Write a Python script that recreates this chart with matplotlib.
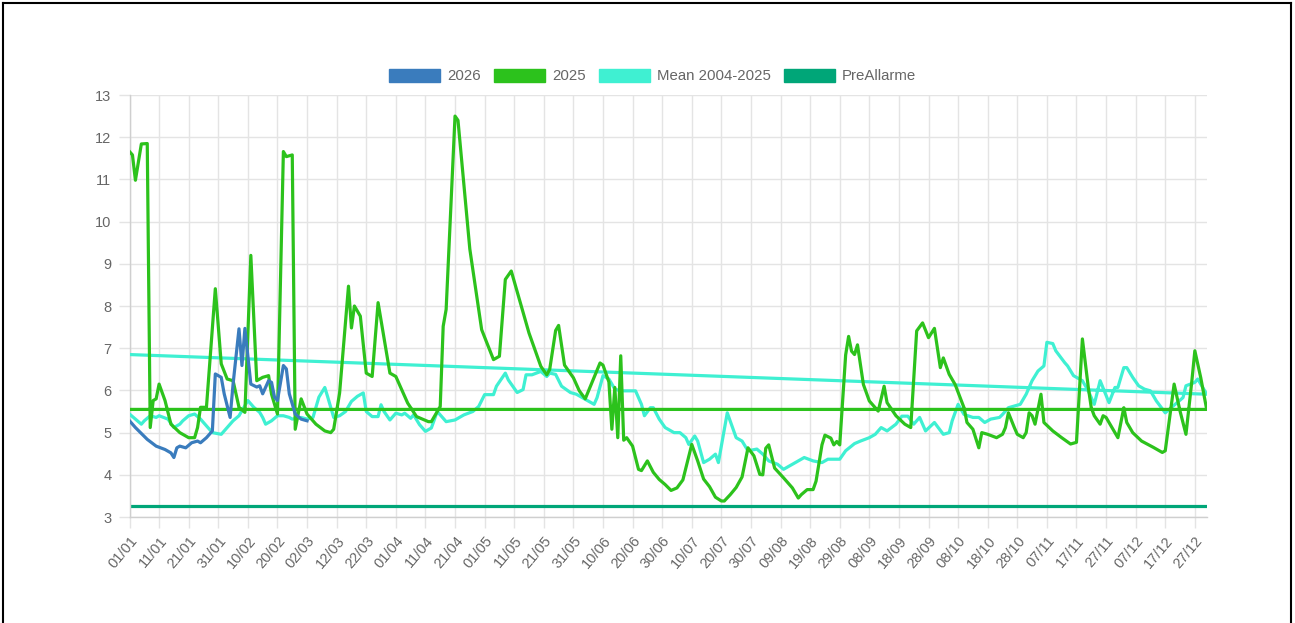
import numpy as np
import pandas as pd
import matplotlib
matplotlib.use("Agg")
import matplotlib.pyplot as plt
from matplotlib.patches import Patch
from matplotlib.lines import Line2D

plt.rcParams['font.family'] = ['Liberation Sans', 'DejaVu Sans']

# ---- data (day of year index, value) ----
y2026_days = [0, 2, 6, 9, 12, 14, 15, 16, 17, 19, 21, 23, 24, 26, 28, 29, 31, 32, 34,
              35, 37, 38, 39, 41, 43, 44, 45, 47, 48, 49, 50, 52, 53, 54, 56, 58, 60]
y2026_vals = [5.28, 5.12, 4.84, 4.68, 4.6, 4.52, 4.41, 4.64, 4.68, 4.64, 4.76, 4.8, 4.76,
              4.88, 5.04, 6.39, 6.31, 5.92, 5.36, 6.15, 7.46, 6.59, 7.47, 6.15, 6.08,
              6.11, 5.92, 6.23, 6.19, 5.84, 5.76, 6.59, 6.51, 5.92, 5.44, 5.32, 5.28]

y2025_days = [0, 1, 2, 4, 6, 7, 8, 9, 10, 12, 14, 17, 20, 22, 23, 24, 26, 29, 31, 33, 35,
              37, 39, 41, 43, 45, 47, 48, 50, 52, 53, 55, 56, 58, 60, 63, 66, 68, 69, 71,
              74, 75, 76, 78, 80, 82, 84, 88, 90, 94, 97, 101, 102, 105, 106, 107, 110,
              111, 115, 119, 123, 125, 127, 129, 135, 139, 141, 142, 144, 145, 147, 150,
              152, 154, 157, 159, 160, 162, 163, 164, 165, 166, 167, 168, 170, 172, 173,
              175, 177, 179, 181, 183, 185, 187, 190, 192, 194, 196, 198, 200, 201, 203,
              205, 207, 209, 211, 213, 214, 215, 216, 218, 221, 224, 226, 227, 229, 231,
              232, 234, 235, 237, 238, 239, 240, 242, 243, 244, 245, 246, 248, 250, 253,
              255, 256, 259, 262, 264, 266, 268, 270, 272, 274, 275, 277, 279, 282, 283,
              285, 287, 288, 290, 293, 295, 296, 297, 299, 300, 302, 303, 304, 305, 306,
              308, 309, 312, 315, 318, 320, 322, 324, 325, 326, 328, 329, 330, 332, 334,
              336, 337, 339, 342, 346, 349, 350, 353, 355, 357, 359, 360, 362, 364, 0]
y2025_vals = [11.66, 11.58, 10.98, 11.84, 11.85, 5.12, 5.76, 5.8, 6.15, 5.76, 5.2, 5.0,
              4.88, 4.88, 5.12, 5.6, 5.6, 8.41, 6.63, 6.27, 6.23, 5.6, 5.48, 9.2, 6.23,
              6.31, 6.35, 5.91, 5.44, 11.66, 11.54, 11.58, 5.08, 5.8, 5.44, 5.2, 5.04, 5.0,
              5.08, 5.94, 8.47, 7.48, 8.0, 7.76, 6.41, 6.33, 8.08, 6.41, 6.33, 5.7, 5.38,
              5.26, 5.26, 5.62, 7.52, 7.92, 12.5, 12.4, 9.35, 7.44, 6.73, 6.81, 8.63, 8.83,
              7.36, 6.57, 6.37, 6.5, 7.42, 7.54, 6.6, 6.3, 5.99, 5.8, 6.31, 6.65, 6.6, 6.2,
              5.08, 6.07, 4.88, 6.82, 4.82, 4.88, 4.68, 4.13, 4.1, 4.33, 4.06, 3.89, 3.77,
              3.63, 3.69, 3.88, 4.72, 4.33, 3.9, 3.72, 3.47, 3.38, 3.38, 3.53, 3.7, 3.95,
              4.64, 4.45, 4.01, 4.0, 4.63, 4.71, 4.16, 3.93, 3.69, 3.45, 3.53, 3.65, 3.65,
              3.85, 4.71, 4.94, 4.87, 4.71, 4.79, 4.71, 6.84, 7.28, 6.93, 6.85, 7.08, 6.14,
              5.75, 5.51, 6.1, 5.71, 5.4, 5.2, 5.12, 7.41, 7.6, 7.25, 7.47, 6.54, 6.77,
              6.38, 6.14, 5.59, 5.24, 5.08, 4.64, 5.0, 4.96, 4.88, 4.96, 5.12, 5.47, 5.12,
              4.96, 4.88, 5.0, 5.47, 5.4, 5.2, 5.91, 5.24, 5.04, 4.88, 4.73, 4.77, 7.22,
              6.07, 5.59, 5.4, 5.2, 5.4, 5.36, 5.12, 4.88, 5.59, 5.24, 5.0, 4.8, 4.65, 4.53,
              4.57, 6.15, 5.51, 4.96, 6.23, 6.94, 6.3, 5.55, 5.55]

mean_days = [0, 2, 4, 5, 7, 9, 10, 13, 15, 17, 18, 20, 22, 24, 26, 28, 31, 32, 35, 37, 40,
             42, 44, 45, 46, 48, 50, 52, 54, 55, 58, 60, 62, 64, 66, 67, 69, 71, 73, 75,
             77, 79, 80, 82, 84, 85, 86, 88, 90, 92, 93, 95, 96, 98, 100, 102, 104, 107,
             110, 113, 116, 118, 120, 123, 124, 127, 128, 131, 133, 134, 136, 139, 141,
             142, 144, 146, 149, 151, 153, 155, 157, 158, 160, 162, 164, 166, 169, 171,
             173, 174, 176, 177, 179, 181, 184, 186, 188, 189, 191, 192, 194, 196, 198,
             199, 202, 205, 207, 209, 212, 214, 216, 219, 221, 223, 225, 228, 231, 234,
             236, 240, 242, 245, 247, 250, 252, 254, 256, 259, 261, 263, 265, 267, 269,
             272, 275, 277, 278, 280, 282, 285, 287, 289, 291, 294, 295, 297, 299, 301,
             303, 305, 307, 309, 310, 312, 313, 316, 317, 319, 322, 324, 326, 328, 331,
             333, 334, 336, 337, 339, 341, 343, 345, 347, 350, 352, 356, 357, 360, 361,
             364, 0]
mean_vals = [5.44, 5.32, 5.2, 5.28, 5.4, 5.36, 5.4, 5.32, 5.12, 5.2, 5.28, 5.4, 5.44, 5.32,
             5.16, 5.0, 4.96, 5.04, 5.28, 5.4, 5.76, 5.6, 5.48, 5.36, 5.2, 5.28, 5.4, 5.4,
             5.36, 5.32, 5.36, 5.32, 5.36, 5.84, 6.07, 5.84, 5.36, 5.4, 5.5, 5.74, 5.86,
             5.94, 5.5, 5.38, 5.38, 5.66, 5.5, 5.3, 5.46, 5.42, 5.46, 5.34, 5.42, 5.19,
             5.03, 5.11, 5.5, 5.26, 5.3, 5.42, 5.5, 5.62, 5.9, 5.9, 6.1, 6.41, 6.25, 5.95,
             6.02, 6.37, 6.37, 6.45, 6.33, 6.41, 6.38, 6.1, 5.95, 5.91, 5.83, 5.75, 5.67,
             5.83, 6.35, 6.27, 6.03, 5.99, 5.99, 5.99, 5.67, 5.4, 5.59, 5.59, 5.32, 5.12,
             5.0, 5.0, 4.88, 4.72, 4.92, 4.8, 4.29, 4.37, 4.49, 4.29, 5.47, 4.88, 4.8, 4.57,
             4.61, 4.49, 4.33, 4.25, 4.13, 4.21, 4.29, 4.41, 4.33, 4.29, 4.37, 4.37, 4.57,
             4.74, 4.8, 4.88, 4.96, 5.12, 5.04, 5.2, 5.39, 5.39, 5.2, 5.36, 5.04, 5.24,
             4.96, 5.0, 5.28, 5.67, 5.43, 5.36, 5.36, 5.24, 5.32, 5.36, 5.43, 5.59, 5.63,
             5.67, 5.91, 6.23, 6.46, 6.58, 7.14, 7.11, 6.94, 6.66, 6.58, 6.35, 6.23, 5.99,
             5.67, 6.23, 5.71, 6.07, 6.07, 6.54, 6.54, 6.31, 6.11, 6.03, 5.99, 5.75, 5.47,
             5.59, 5.83, 6.11, 6.19, 6.27, 5.91, 6.85]

prealarm_level = 3.25
n_days = 365

# x tick labels: every 10 days of a non-leap year
dates = pd.date_range("2025-01-01", periods=n_days, freq="D")
tick_pos = np.arange(0, n_days, 10)
tick_labels = [dates[i].strftime("%d/%m") for i in tick_pos]

c2026 = "#3a7cbd"
c2025 = "#2cc21c"
cmean = "#3ff0d2"
cpre = "#00a678"
grid_c = "#e4e4e4"
text_c = "#666666"

fig = plt.figure(figsize=(12.95, 6.23), dpi=100)
ax = fig.add_axes([0.1, 0.1701, 0.8318, 0.6774])

lw = 2.3
ax.plot([0, n_days - 1], [prealarm_level, prealarm_level], color=cpre, lw=lw, zorder=2,
        solid_capstyle='butt')
ax.plot(mean_days, mean_vals, color=cmean, lw=lw, zorder=3, solid_joinstyle='round')
ax.plot(y2025_days, y2025_vals, color=c2025, lw=lw, zorder=4, solid_joinstyle='round')
ax.plot(y2026_days, y2026_vals, color=c2026, lw=lw, zorder=5, solid_joinstyle='round')

ax.set_xlim(0, n_days - 1)
ax.set_ylim(3, 13)
ax.set_yticks(range(3, 14))
ax.set_xticks(tick_pos)
ax.set_xticklabels(tick_labels, rotation=50, ha='right', rotation_mode='anchor')
ax.grid(True, color=grid_c, lw=1.0, zorder=0)
ax.tick_params(axis='both', colors=grid_c, labelcolor=text_c, labelsize=10.5,
               length=8, width=1.0)
ax.tick_params(axis='x', pad=4)
ax.tick_params(axis='y', pad=5)
for s in ['top', 'right']:
    ax.spines[s].set_visible(False)
for s in ['left', 'bottom']:
    ax.spines[s].set_color("#cfcfcf")
    ax.spines[s].set_linewidth(1.0)

handles = [Patch(facecolor=c, edgecolor=c) for c in (c2026, c2025, cmean, cpre)]
leg = fig.legend(handles, ["2026", "2025", "Mean 2004-2025", "PreAllarme"], loc='center',
                 bbox_to_anchor=(0.504, 0.878), ncol=4, frameon=False, fontsize=10.8,
                 handlelength=3.4, handleheight=1.0, handletextpad=0.5,
                 columnspacing=0.85, borderpad=0)
for t in leg.get_texts():
    t.set_color(text_c)

# outer frame of the screenshot
fig.add_artist(Line2D([3 / 1295, 3 / 1295], [0, 620 / 623], color='black', lw=1.5))
fig.add_artist(Line2D([3 / 1295, 1291 / 1295], [620 / 623, 620 / 623], color='black', lw=1.5))
fig.add_artist(Line2D([1291 / 1295, 1291 / 1295], [0, 620 / 623], color='black', lw=1.5))

fig.savefig("out.png", dpi=100, facecolor='white')
